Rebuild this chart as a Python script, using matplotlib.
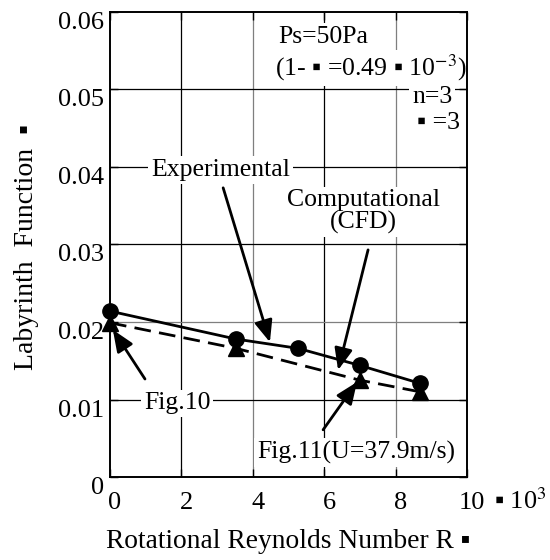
import matplotlib
matplotlib.use("Agg")
import matplotlib.pyplot as plt
import matplotlib.transforms as mtransforms

plt.rcParams['font.family'] = ['Liberation Serif', 'DejaVu Sans']
plt.rcParams['mathtext.fontset'] = 'stix'

# data (Reynolds number in units of 10^3)
exp_x = [0.0, 3.53, 5.27, 7.0, 8.68]
exp_y = [0.0214, 0.0178, 0.0166, 0.0144, 0.0121]
cfd_x = [0.0, 3.53, 7.0, 8.68]
cfd_y = [0.0199, 0.0166, 0.0125, 0.0110]

x_ticks = [0, 2, 4, 6, 8, 10]
x_tick_labels = ['0', '2', '4', '6', '8', '10']
y_ticks = [0, 0.01, 0.02, 0.03, 0.04, 0.05, 0.06]
y_tick_labels = ['0', '0.01', '0.02', '0.03', '0.04', '0.05', '0.06']

# grid lines (some are printed grey in the original)
vgrid = [2, 4, 6, 8]
vgrid_colors = ['black', '#7f7f7f', 'black', '#7f7f7f']
hgrid = [0.01, 0.02, 0.03, 0.04, 0.05]
hgrid_colors = ['black', '#7f7f7f', 'black', 'black', 'black']

fig = plt.figure(figsize=(5.5, 5.6), dpi=100)
ax = fig.add_axes([0.2, 0.148, 0.649, 0.831])
ax.set_xlim(0, 10)
ax.set_ylim(0, 0.06)

for v, c in zip(vgrid, vgrid_colors):
    ax.axvline(v, color=c, lw=0.9, zorder=1)
for h, c in zip(hgrid, hgrid_colors):
    ax.axhline(h, color=c, lw=0.9, zorder=1)

ax.set_xticks(x_ticks)
ax.set_yticks(y_ticks)
ax.set_xticklabels([])
ax.set_yticklabels([])
ax.tick_params(direction='in', length=6, width=1.0, top=True, right=True)
for s in ax.spines.values():
    s.set_linewidth(1.4)
    s.set_zorder(5)

tsize = 19
asize = 18.5
# tick labels placed by hand (the original has them offset)
off_x = mtransforms.ScaledTranslation(0.05, -0.15, fig.dpi_scale_trans)
for v, lab in zip(x_ticks, x_tick_labels):
    ax.text(v, 0, lab, transform=ax.get_xaxis_transform() + off_x,
            ha='center', va='top', fontsize=tsize)
off_y = mtransforms.ScaledTranslation(-0.06, -0.11, fig.dpi_scale_trans)
for v, lab in zip(y_ticks, y_tick_labels):
    ax.text(0, v, lab, transform=ax.get_yaxis_transform() + off_y,
            ha='right', va='center', fontsize=tsize)
fig.text(494 / 550, 1 - 501 / 560, '\u25aa 10$^3$', ha='left', va='center', fontsize=tsize)

fig.text(288 / 550, 1 - 541 / 560, 'Rotational Reynolds Number R \u25aa',
         ha='center', va='center', fontsize=19.8)
fig.text(27 / 550, 1 - 247 / 560, 'Labyrinth  Function  \u25aa', rotation=90,
         ha='center', va='center', fontsize=20)

ax.plot(exp_x, exp_y, color='black', lw=2.0, marker='o', markersize=11,
        zorder=4, clip_on=False)
ax.plot(cfd_x, cfd_y, color='black', lw=2.0, marker='^', markersize=11,
        dashes=(6, 3), zorder=4, clip_on=False)

box = dict(facecolor='white', edgecolor='none', pad=2)
arrow = dict(arrowstyle='-|>,head_length=0.6,head_width=0.25', lw=2.0,
             color='black', mutation_scale=22, shrinkA=0, shrinkB=0)

ax.text(3.1, 0.0396, 'Experimental', ha='center', va='center', fontsize=asize,
        bbox=box, zorder=3)
ax.annotate('', xy=(4.48, 0.0174), xytext=(3.17, 0.0373), arrowprops=arrow, zorder=4)

ax.text(7.11, 0.0342, 'Computational\n(CFD)', ha='center', va='center',
        fontsize=asize, linespacing=1.0, bbox=box, zorder=3)
ax.annotate('', xy=(6.39, 0.0138), xytext=(7.23, 0.0293), arrowprops=arrow, zorder=4)

ax.text(1.88, 0.0095, 'Fig.10', ha='center', va='center', fontsize=asize,
        bbox=box, zorder=3)
ax.annotate('', xy=(0.08, 0.0190), xytext=(0.98, 0.01265), arrowprops=arrow, zorder=4)

ax.text(6.89, 0.0032, 'Fig.11(U=37.9m/s)', ha='center', va='center',
        fontsize=asize, bbox=box, zorder=3)
ax.annotate('', xy=(6.92, 0.01226), xytext=(5.97, 0.0061), arrowprops=arrow, zorder=4)

ax.text(4.71, 0.0568, 'Ps=50Pa', ha='left', va='center', fontsize=asize,
        bbox=box, zorder=3)
ax.text(4.62, 0.0528, '(1- \u25aa =0.49 \u25aa 10$^{-3}$)', ha='left', va='center',
        fontsize=asize, bbox=box, zorder=3)
ax.text(8.46, 0.0490, 'n=3', ha='left', va='center', fontsize=asize,
        bbox=box, zorder=3)
ax.text(9.8, 0.0457, '\u25aa =3', ha='right', va='center', fontsize=asize,
        bbox=box, zorder=3)

fig.savefig('out.png', dpi=100, facecolor='white')
